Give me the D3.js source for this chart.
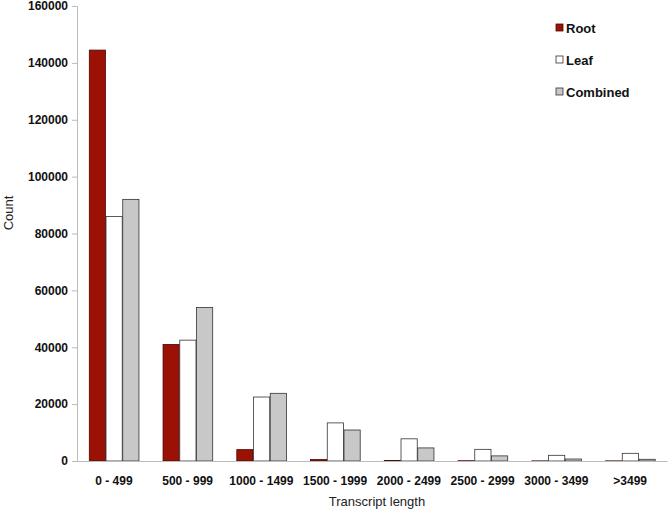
<!DOCTYPE html>
<html>
<head>
<meta charset="utf-8">
<script src="https://cdn.jsdelivr.net/npm/d3@7"></script>
<style>
  body { margin: 0; background: #fff; }
  text { font-family: "Liberation Sans", Arial, sans-serif; }
</style>
</head>
<body>
<div id="chart"></div>
<script>
// chart data
var categories = ["0 - 499", "500 - 999", "1000 - 1499", "1500 - 1999",
                  "2000 - 2499", "2500 - 2999", "3000 - 3499", ">3499"];
var seriesNames = ["Root", "Leaf", "Combined"];
var rootValues = [144500, 41000, 4000, 500, 200, 100, 50, 50];
var leafValues = [86000, 42500, 22500, 13400, 7800, 4100, 2000, 2700];
var combinedValues = [92000, 54000, 23800, 10900, 4600, 1800, 700, 600];
var yTicks = [0, 20000, 40000, 60000, 80000, 100000, 120000, 140000, 160000];

var svgWidth = 669;
var svgHeight = 516;

var margin = { top: 6, right: 2, bottom: 55, left: 77 };
var chartWidth = svgWidth - margin.left - margin.right;
var chartHeight = svgHeight - margin.top - margin.bottom;

var colors = { Root: "#9b1106", Leaf: "#ffffff", Combined: "#c8c8c8" };
var strokes = { Root: "#4a0a05", Leaf: "#333", Combined: "#333" };

var rows = categories.map(function(c, i) {
  return { cat: c, Root: rootValues[i], Leaf: leafValues[i], Combined: combinedValues[i] };
});

var svg = d3.select("#chart").append("svg")
  .attr("width", svgWidth)
  .attr("height", svgHeight);

var chartGroup = svg.append("g")
  .attr("transform", `translate(${margin.left}, ${margin.top})`);

var xScale = d3.scaleBand()
  .domain(categories)
  .range([0, chartWidth])
  .paddingInner(0.32)
  .paddingOuter(0.16);

var xSub = d3.scaleBand()
  .domain(seriesNames)
  .range([0, xScale.bandwidth()]);

var yScale = d3.scaleLinear()
  .domain([0, 160000])
  .range([chartHeight, 0]);

// bars
var groups = chartGroup.append("g").selectAll("g")
  .data(rows)
  .enter()
  .append("g")
  .attr("transform", d => `translate(${xScale(d.cat)},0)`);

groups.selectAll("rect")
  .data(d => seriesNames.map(s => ({ key: s, value: d[s] })))
  .enter()
  .append("rect")
  .attr("x", d => xSub(d.key) + 0.5)
  .attr("y", d => yScale(d.value))
  .attr("width", xSub.bandwidth() - 0.5)
  .attr("height", d => chartHeight - yScale(d.value))
  .attr("fill", d => colors[d.key])
  .attr("stroke", d => strokes[d.key])
  .attr("stroke-width", 0.8);

// y axis
var yAxis = d3.axisLeft(yScale).tickValues(yTicks).tickSize(5).tickFormat(d3.format("d"));
var yG = chartGroup.append("g").call(yAxis);
yG.select(".domain").attr("stroke", "#bbb");
yG.selectAll(".tick line").attr("stroke", "#bbb");
yG.selectAll(".tick text")
  .attr("x", -9)
  .attr("font-size", 12)
  .attr("font-weight", "bold")
  .attr("fill", "#111")
  .style("font-family", "Liberation Sans, Arial, sans-serif");

// x axis
var xAxis = d3.axisBottom(xScale).tickSize(0).tickPadding(15);
var xG = chartGroup.append("g")
  .attr("transform", `translate(0, ${chartHeight})`)
  .call(xAxis);
xG.select(".domain").attr("stroke", "#bbb");
xG.selectAll(".tick text")
  .attr("font-size", 12)
  .attr("font-weight", "bold")
  .attr("fill", "#111")
  .style("font-family", "Liberation Sans, Arial, sans-serif");

// axis titles
svg.append("text")
  .attr("x", margin.left + chartWidth / 2 + 5)
  .attr("y", 506)
  .attr("text-anchor", "middle")
  .attr("font-size", 13)
  .attr("fill", "#222")
  .text("Transcript length");

svg.append("text")
  .attr("transform", "rotate(-90)")
  .attr("x", -213)
  .attr("y", 13)
  .attr("text-anchor", "middle")
  .attr("font-size", 13)
  .attr("fill", "#222")
  .text("Count");

// legend
var legend = svg.append("g").selectAll("g")
  .data(seriesNames)
  .enter()
  .append("g")
  .attr("transform", (d, i) => `translate(556, ${24 + i * 32})`);

legend.append("rect")
  .attr("width", 7)
  .attr("height", 7)
  .attr("fill", d => colors[d])
  .attr("stroke", d => strokes[d])
  .attr("stroke-width", 0.8);

legend.append("text")
  .attr("x", 10)
  .attr("y", 9)
  .attr("font-size", 13)
  .attr("font-weight", "bold")
  .attr("fill", "#111")
  .text(d => d);
</script>
</body>
</html>
